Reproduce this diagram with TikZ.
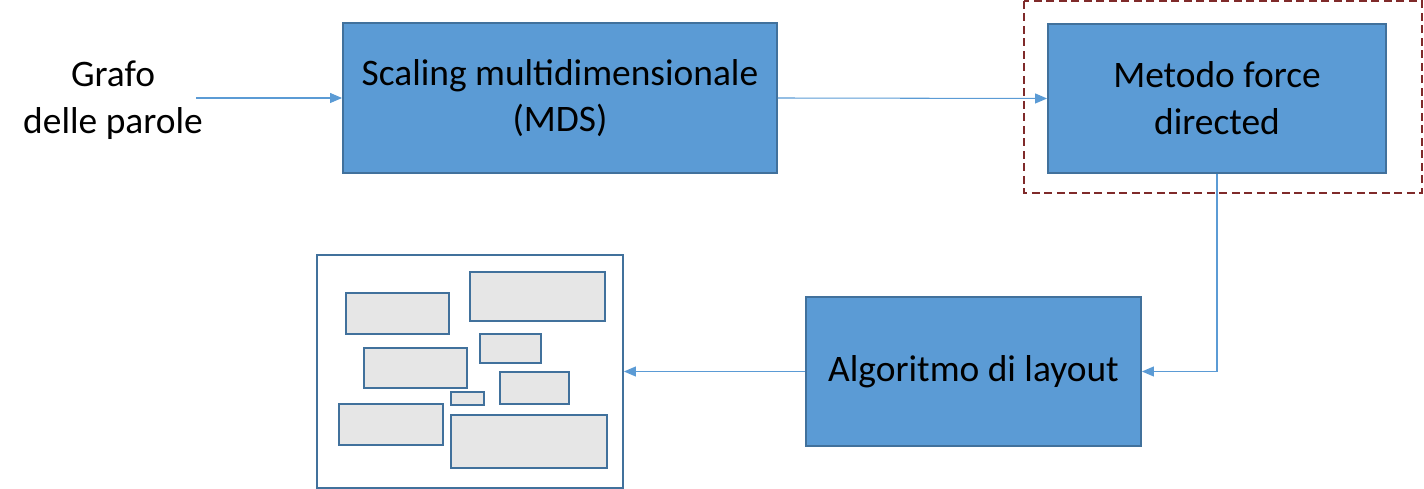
\documentclass[tikz,border=0pt]{standalone}
\usepackage{fontspec}
\setmainfont{Carlito}
\usepackage{xcolor}
\usepackage{tikz}
\usetikzlibrary{arrows.meta}
\usetikzlibrary{positioning}
\definecolor{boxblue}{HTML}{5B9BD5}
\definecolor{boxedge}{HTML}{41719C}
\definecolor{boxgray}{HTML}{E6E6E6}
\definecolor{darkred}{HTML}{7F2A2A}

\begin{document}
\begin{tikzpicture}[x=0.02cm,y=-0.02cm]
\tikzset{
    procnode/.style = {rectangle, draw=boxedge, line width=1.1pt, fill=boxblue, align=center, font=\fontsize{21.3}{26.6}\selectfont},
    framenode/.style = {rectangle, draw=boxedge, line width=1.1pt, fill=white},
    miniblock/.style = {draw=boxedge, line width=1pt, fill=boxgray},
    conn/.style = {draw=boxblue, line width=0.6pt, -{Triangle[length=0.24cm,width=0.2cm]}}
}
\useasboundingbox (0,0) rectangle (1424,489);
% ingresso
\node [align=center, inner sep=0pt, font=\fontsize{21.3}{26.6}\selectfont] (grafo) at (113,100) {Grafo\\delle parole};
\coordinate (src) at (196,98);
\node [procnode, minimum width=8.68cm, minimum height=3cm] (mds) at (560,98) {Scaling multidimensionale\\(MDS)};
\node [procnode, minimum width=6.76cm, minimum height=2.98cm] (force) at (1217,98.5) {Metodo force\\directed};
\node [procnode, minimum width=6.7cm, minimum height=2.98cm] (algo) at (973.5,371.5) {Algoritmo di layout};
\node [framenode, minimum width=6.12cm, minimum height=4.66cm] (layout) at (470,371.5) {};
% riquadro tratteggiato
\draw [darkred, line width=1.1pt, dash pattern=on 0.16cm off 0.09cm] (1024,1) rectangle (1422,193);
% blocchi del layout
\draw [miniblock] (346,293) rectangle (449,334);
\draw [miniblock] (470,272) rectangle (605,321);
\draw [miniblock] (480,334) rectangle (541,363);
\draw [miniblock] (364,348) rectangle (467,388);
\draw [miniblock] (500,372) rectangle (569,404);
\draw [miniblock] (451,392) rectangle (484,405);
\draw [miniblock] (339,404) rectangle (443,445);
\draw [miniblock] (451,415) rectangle (607,468);
% frecce
\draw [conn] (src) -- (mds.west);
\draw [conn] (mds.east) -- (force.west);
\draw [conn] (force.south) |- (algo.east);
\draw [conn] (algo.west) -- (layout.east);
\end{tikzpicture}
\end{document}
